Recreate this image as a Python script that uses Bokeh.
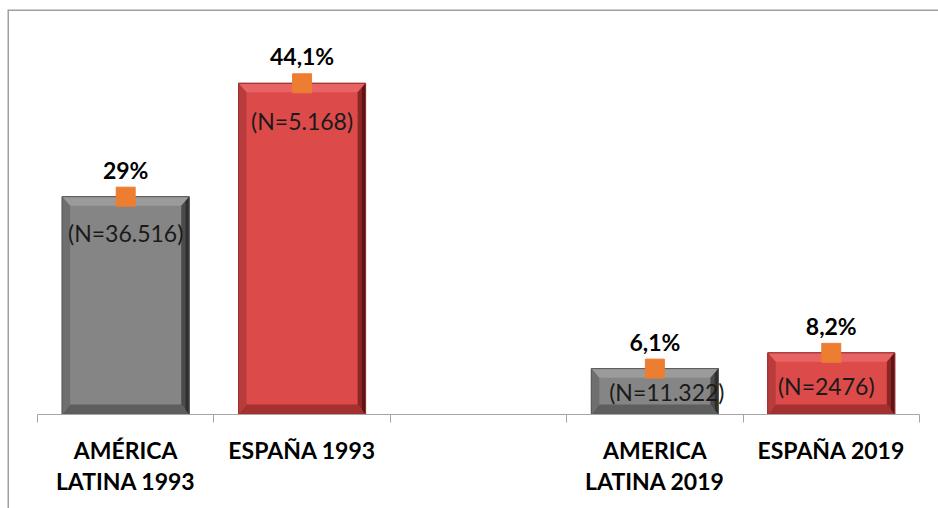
import numpy as np
from bokeh.plotting import figure
from bokeh.models import Range1d, LinearAxis, FixedTicker, ColumnDataSource, Span
from bokeh.core.properties import value
from bokeh.embed import file_html
from bokeh.resources import INLINE

# ---- data ----
slots = ["AMÉRICA\nLATINA 1993", "ESPAÑA 1993", "", "AMERICA\nLATINA 2019", "ESPAÑA 2019"]
slot_values = [29.0, 44.1, None, 6.1, 8.2]
value_labels = ["29%", "44,1%", "6,1%", "8,2%"]
n_labels = ["(N=36.516)", "(N=5.168)", "(N=11.322)", "(N=2476)"]
bar_kind = ["gray", "red", "gray", "red"]

# ---- layout / style constants ----
FONT = "Lato"
n_label_dx = [0, 0, 12, -5]      # px
n_label_dy = [36, 38, 23, 33]    # px below bar top
BAR_W = 0.72
BX = 0.045   # bevel width in x data units (~8px)
BY = 1.2     # bevel height in y data units (~9px)
# visible window of the chart area (includes room for the category labels)
X_VIEW = (-0.170, 5.108)
Y_VIEW = (-12.53, 53.93)

palette = {
    "gray": dict(face="#858585", top="#9b9b9b", left="#6f6f6f", right="#4a4a4a", right2="#2e2e2e", bottom="#5e5e5e", edge="#5a5a5a"),
    "red": dict(face="#dc4a4a", top="#e86464", left="#b83c3c", right="#8c2525", right2="#5a1515", bottom="#a53030", edge="#9a2e2e"),
}

idx = [i for i, v in enumerate(slot_values) if v is not None]
xc = np.array([i + 0.5 for i in idx])
vals = np.array([slot_values[i] for i in idx])

p = figure(width=938, height=508, output_backend="svg", toolbar_location=None,
           x_range=Range1d(*X_VIEW), y_range=Range1d(*Y_VIEW),
           x_axis_location=None, y_axis_location=None,
           min_border_left=7, min_border_right=0, min_border_top=9, min_border_bottom=0)
p.outline_line_color = None
p.xgrid.visible = False
p.ygrid.visible = False
p.background_fill_color = "white"
p.border_fill_color = "white"

# outer chart border (top and left edges; the others fall outside the window)
p.add_layout(Span(location=Y_VIEW[1], dimension="width", line_color="#a0a0a0", line_width=3))
p.add_layout(Span(location=X_VIEW[0], dimension="height", line_color="#a0a0a0", line_width=3))

# bars: face
face_colors = [palette[k]["face"] for k in bar_kind]
edge_colors = [palette[k]["edge"] for k in bar_kind]
p.vbar(x=xc, top=vals, bottom=0, width=BAR_W, fill_color=face_colors, line_color=edge_colors, line_width=1)

# bevels
xs, ys, cs = [], [], []
hw = BAR_W / 2
for c, t, k in zip(xc, vals, bar_kind):
    col = palette[k]
    oL, oR, oB, oT = c - hw, c + hw, 0.0, t
    iL, iR, iB, iT = oL + BX, oR - BX, oB + BY * 1.1, oT - BY
    xs += [[oL, oR, iR, iL], [oR, oR, iR, iR], [oR, oL, iL, iR], [oL, oL, iL, iL]]
    ys += [[oT, oT, iT, iT], [oT, oB, iB, iT], [oB, oB, iB, iB], [oB, oT, iT, iB]]
    cs += [col["top"], col["right"], col["bottom"], col["left"]]
    m = oR - BX * 0.45
    xs.append([oR, oR, m, m])
    ys.append([oT, oB, oB + BY * 0.5, oT - BY * 0.5])
    cs.append(col["right2"])
p.patches(xs=xs, ys=ys, fill_color=cs, line_color=None)
p.vbar(x=xc, top=vals, bottom=0, width=BAR_W, fill_color=None, line_color=edge_colors, line_width=1)

# orange markers
p.scatter(x=xc, y=vals, marker="square", size=19, fill_color="#ED7D31", line_color="#ED7D31")

# value labels
p.text(x=xc, y=vals, text=value_labels, y_offset=-27, text_align="center", text_baseline="middle",
       text_font=value(FONT), text_font_style="bold", text_font_size="23px", text_color="black")

# N labels
src = ColumnDataSource(dict(x=xc, y=vals, t=n_labels, dx=n_label_dx, dy=n_label_dy))
p.text(x="x", y="y", text="t", x_offset="dx", y_offset="dy", source=src, text_align="center",
       text_baseline="middle", text_font=value(FONT), text_font_size="23px", text_color="#1a1a1a")

# category axis, drawn at y = 0
centers = [i + 0.5 for i in range(len(slots))]
bounds = list(range(len(slots) + 1))
axis = LinearAxis(ticker=FixedTicker(ticks=centers, minor_ticks=bounds),
                  fixed_location=0, bounds=(0, len(slots)),
                  major_label_overrides={c: s for c, s in zip(centers, slots)},
                  major_tick_in=0, major_tick_out=0, minor_tick_in=0, minor_tick_out=8,
                  axis_line_color="#a6a6a6", minor_tick_line_color="#a6a6a6", axis_line_width=1,
                  major_label_text_font=FONT, major_label_text_font_style="bold",
                  major_label_text_font_size="23px", major_label_text_color="black",
                  major_label_standoff=14, major_label_text_line_height=1.08)
p.add_layout(axis, "below")

open("out.html", "w").write(file_html(p, INLINE))
